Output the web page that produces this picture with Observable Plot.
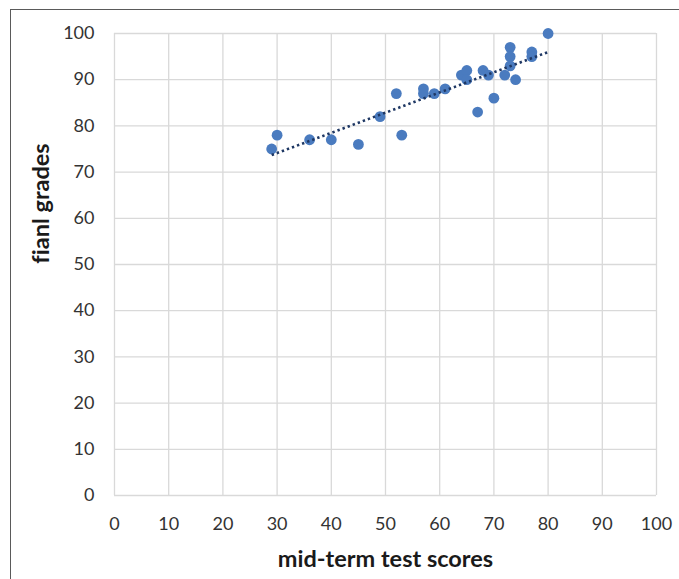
<!DOCTYPE html>
<html>
<head>
<meta charset="utf-8">
<script src="https://cdn.jsdelivr.net/npm/d3@7"></script>
<script src="https://cdn.jsdelivr.net/npm/@observablehq/plot@0.6"></script>
<style>
  html, body { margin: 0; padding: 0; background: #fff; }
  #wrap { position: relative; width: 679px; height: 579px; overflow: hidden; }
  #frame { position: absolute; left: 10px; top: 9px; width: 720px; height: 720px; border: 1.5px solid #5a5a5a; box-sizing: border-box; }
  #chart { position: absolute; left: 0; top: 0; }
  svg text { font-variant-ligatures: none; }
</style>
</head>
<body>
<div id="wrap"><div id="frame"></div><div id="chart"></div></div>
<script>
const midterm = [29, 30, 36, 40, 45, 49, 52, 53, 57, 57, 59, 61, 64, 65, 65, 67, 68, 69, 70, 72, 73, 73, 73, 74, 77, 77, 80];
const finals  = [75, 78, 77, 77, 76, 82, 87, 78, 88, 87, 87, 88, 91, 92, 90, 83, 92, 91, 86, 91, 97, 95, 93, 90, 96, 95, 100];
const xTicks = [0, 10, 20, 30, 40, 50, 60, 70, 80, 90, 100];
const yTicks = [0, 10, 20, 30, 40, 50, 60, 70, 80, 90, 100];
const xTitle = "mid-term test scores";
const yTitle = "fianl grades";

const points = midterm.map((m, i) => ({mid: m, fin: finals[i]}));

const chart = Plot.plot({
  width: 679,
  height: 579,
  marginLeft: 114,
  marginRight: 23,
  marginTop: 33,
  marginBottom: 84,
  style: {fontFamily: "Lato, 'Open Sans', sans-serif", fontSize: "18px", color: "#333", background: "transparent"},
  x: {domain: [0, 100]},
  y: {domain: [0, 100]},
  marks: [
    Plot.gridX(xTicks, {stroke: "#d9d9d9", strokeOpacity: 1, strokeWidth: 1.3}),
    Plot.gridY(yTicks, {stroke: "#d9d9d9", strokeOpacity: 1, strokeWidth: 1.3}),
    Plot.axisX({ticks: xTicks, tickSize: 0, tickPadding: 22, label: null, fontSize: 18}),
    Plot.axisY({ticks: yTicks, tickSize: 0, tickPadding: 20, label: null, fontSize: 18}),
    Plot.dot(points, {x: "mid", y: "fin", r: 5.4, fill: "#4a7bbf", stroke: "none"}),
    Plot.linearRegressionY(points, {x: "mid", y: "fin", ci: 0, stroke: "#1f3864", strokeWidth: 2.6, strokeDasharray: "2.4 3", strokeLinecap: "butt"}),
    Plot.text([xTitle], {text: d => d, frameAnchor: "bottom", dy: 64, fontSize: 23.5, fontWeight: "bold", fill: "#1a1a1a", lineAnchor: "middle"}),
    Plot.text([yTitle], {text: d => d, frameAnchor: "left", dx: -73, dy: -61, rotate: -90, textAnchor: "middle", fontSize: 23.5, fontWeight: "bold", fill: "#1a1a1a", lineAnchor: "middle"})
  ]
});
document.getElementById("chart").appendChild(chart);
</script>
</body>
</html>
